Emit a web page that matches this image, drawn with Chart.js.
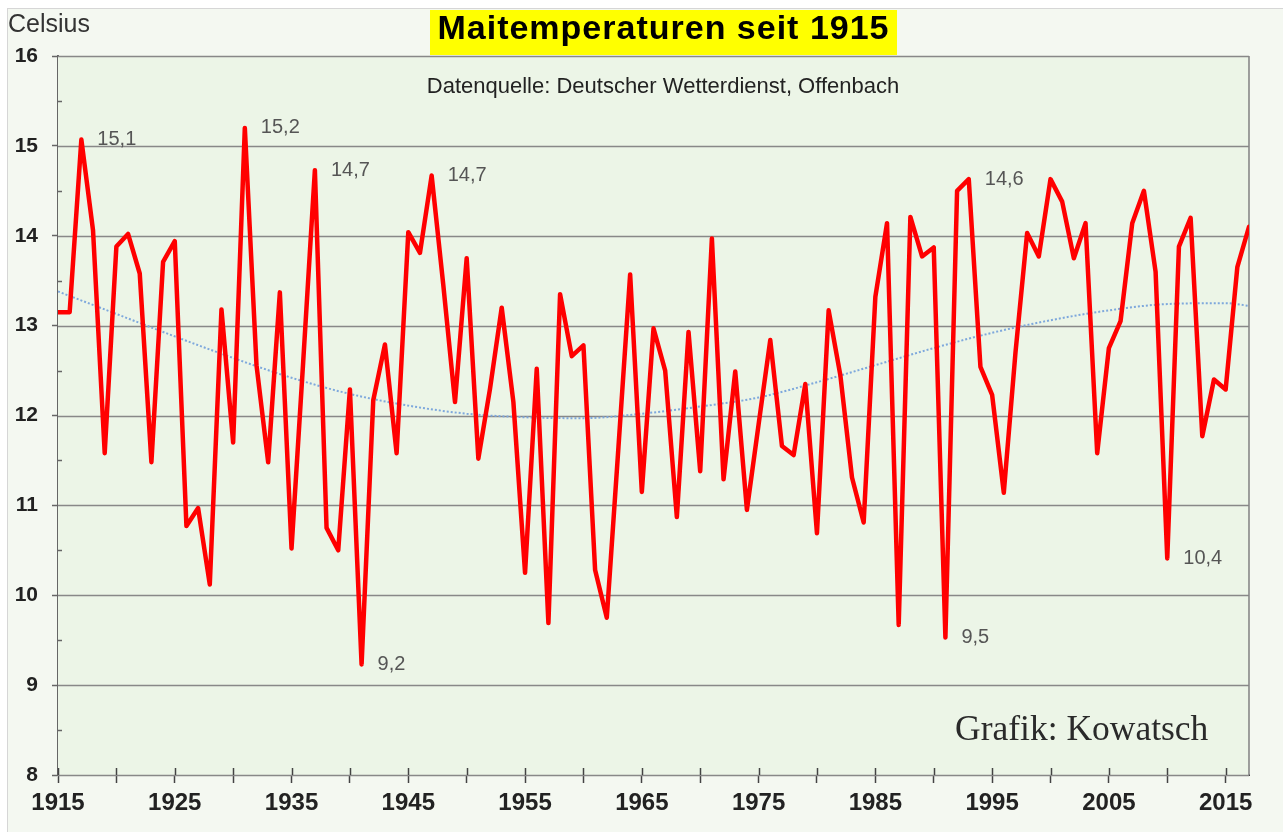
<!DOCTYPE html>
<html>
<head>
<meta charset="utf-8">
<script src="https://cdn.jsdelivr.net/npm/chart.js@4.4.1/dist/chart.umd.min.js"></script>
<style>
  html, body { margin:0; padding:0; background:#ffffff; }
  body { width:1283px; height:832px; position:relative; overflow:hidden; font-family:"Liberation Sans", Arial, sans-serif; }
  #panel { position:absolute; left:7px; top:8px; width:1276px; height:824px; background:#f4f8f1; border-left:1px solid #d6d6d6; border-top:1px solid #d6d6d6; box-sizing:border-box; }
  #chart { position:absolute; left:0; top:0; }
  .txt { position:absolute; white-space:nowrap; }
  #title { left:430px; top:10px; width:467px; height:45px; background:#ffff00; font-weight:bold; font-size:34px; letter-spacing:1px; line-height:35px; text-align:center; color:#000; }
  #subtitle { left:363px; top:75px; width:600px; font-size:22px; line-height:22px; text-align:center; color:#222; }
  #ylab { left:8px; top:11px; font-size:25px; line-height:25px; color:#333; }
  #credit { left:955px; top:711px; font-family:"Liberation Serif", "Times New Roman", serif; font-size:35.5px; line-height:35.5px; color:#2a2a2a; }
</style>
</head>
<body>
<div id="panel"></div>
<canvas id="chart" width="1283" height="832"></canvas>
<div class="txt" id="title">Maitemperaturen seit 1915</div>
<div class="txt" id="subtitle">Datenquelle: Deutscher Wetterdienst, Offenbach</div>
<div class="txt" id="ylab">Celsius</div>
<div class="txt" id="credit">Grafik: Kowatsch</div>
<script>
// ---- Data ----
const years = [
  1915,1916,1917,1918,1919,1920,1921,1922,1923,1924,
  1925,1926,1927,1928,1929,1930,1931,1932,1933,1934,
  1935,1936,1937,1938,1939,1940,1941,1942,1943,1944,
  1945,1946,1947,1948,1949,1950,1951,1952,1953,1954,
  1955,1956,1957,1958,1959,1960,1961,1962,1963,1964,
  1965,1966,1967,1968,1969,1970,1971,1972,1973,1974,
  1975,1976,1977,1978,1979,1980,1981,1982,1983,1984,
  1985,1986,1987,1988,1989,1990,1991,1992,1993,1994,
  1995,1996,1997,1998,1999,2000,2001,2002,2003,2004,
  2005,2006,2007,2008,2009,2010,2011,2012,2013,2014,
  2015,2016,2017
];
const mayTemps = [
  13.15,13.15,15.07,14.06,11.58,13.88,14.02,13.58,11.48,13.71,
  13.94,10.77,10.97,10.12,13.18,11.70,15.20,12.56,11.48,13.37,
  10.52,12.60,14.73,10.75,10.50,12.29, 9.23,12.17,12.79,11.58,
  14.04,13.81,14.67,13.45,12.15,13.75,11.52,12.30,13.20,12.15,
  10.25,12.52, 9.69,13.35,12.66,12.78,10.28, 9.75,11.65,13.57,
  11.15,12.97,12.50,10.87,12.93,11.38,13.97,11.29,12.49,10.95,
  11.90,12.84,11.66,11.56,12.35,10.69,13.17,12.45,11.31,10.81,
  13.32,14.14, 9.67,14.21,13.77,13.87, 9.53,14.50,14.63,12.54,
  12.23,11.14,12.70,14.03,13.77,14.63,14.38,13.75,14.14,11.58,
  12.75,13.05,14.14,14.50,13.60,10.41,13.88,14.20,11.77,12.40,
  12.29,13.65,14.10
];
// dotted trend curve, read at 5-year steps
const trendYears = [1915,1920,1925,1930,1935,1940,1945,1950,1955,1960,1965,1970,1975,1980,1985,1990,1995,2000,2005,2010,2015,2017];
const trendTemps = [13.38,13.13,12.88,12.64,12.42,12.24,12.11,12.02,11.98,11.97,12.02,12.10,12.20,12.37,12.56,12.75,12.92,13.06,13.17,13.24,13.25,13.22];
// years whose values are annotated
const labeledYears = [1917,1931,1937,1941,1947,1991,1993,2010];
// axis ranges
const yMin = 8, yMax = 16;
const xMin = 1915, xMax = 2017;

const mainPoints = years.map((yr, i) => ({ x: yr, y: mayTemps[i] }));
const trendPoints = trendYears.map((yr, i) => ({ x: yr, y: trendTemps[i] }));

const decor = {
  id: 'decor',
  beforeDatasetsDraw(chart) {
    const { ctx, chartArea: a } = chart;
    ctx.save();
    ctx.fillStyle = '#ecf5e7';
    ctx.fillRect(a.left, a.top, a.right - a.left, a.bottom - a.top);
    ctx.restore();
    const ys = chart.scales.y;
    ctx.save();
    ctx.strokeStyle = '#888888';
    ctx.lineWidth = 1.6;
    ys.ticks.forEach(t => {
      const py = Math.round(ys.getPixelForValue(t.value)) + 0.5;
      ctx.beginPath(); ctx.moveTo(a.left, py); ctx.lineTo(a.right, py); ctx.stroke();
    });
    ctx.beginPath(); ctx.moveTo(a.right, a.top); ctx.lineTo(a.right, a.bottom); ctx.stroke();
    ctx.restore();
  },
  afterDatasetsDraw(chart) {
    const { ctx } = chart;
    const meta = chart.getDatasetMeta(0);
    ctx.save();
    ctx.font = '20px "Liberation Sans", Arial, sans-serif';
    ctx.fillStyle = '#555555';
    ctx.textAlign = 'left';
    ctx.textBaseline = 'middle';
    labeledYears.forEach(yr => {
      const i = years.indexOf(yr);
      const el = meta.data[i];
      const txt = mayTemps[i].toFixed(1).replace('.', ',');
      ctx.fillText(txt, el.x + 16, el.y);
    });
    ctx.restore();
  },
  afterDraw(chart) {
    const { ctx, chartArea: a } = chart;
    const xs = chart.scales.x, ys = chart.scales.y;
    ctx.save();
    ctx.strokeStyle = '#444';
    ctx.lineWidth = 1.5;
    xs.ticks.forEach(t => {
      const px = Math.round(xs.getPixelForValue(t.value)) + 0.5;
      ctx.beginPath(); ctx.moveTo(px, a.bottom - 7); ctx.lineTo(px, a.bottom); ctx.stroke();
    });
    ctx.strokeStyle = '#666';
    ys.ticks.forEach(t => {
      if (t.value >= yMax) return;
      const py = Math.round(ys.getPixelForValue(t.value + 0.5)) + 0.5;
      ctx.beginPath(); ctx.moveTo(a.left, py); ctx.lineTo(a.left + 4, py); ctx.stroke();
    });
    ctx.restore();
  }
};

new Chart(document.getElementById('chart'), {
  type: 'line',
  data: {
    datasets: [
      {
        data: mainPoints,
        borderColor: '#ff0000',
        borderWidth: 4.5,
        pointRadius: 0,
        tension: 0,
        borderJoinStyle: 'round',
        borderCapStyle: 'round',
        fill: false
      },
      {
        data: trendPoints,
        borderColor: '#7ea8dc',
        borderWidth: 2,
        borderDash: [2, 2],
        pointRadius: 0,
        cubicInterpolationMode: 'monotone',
        fill: false
      }
    ]
  },
  options: {
    responsive: false,
    animation: false,
    devicePixelRatio: 1,
    layout: { padding: { left: 0, top: 56, right: 34, bottom: 0 } },
    plugins: { legend: { display: false }, tooltip: { enabled: false }, title: { display: false } },
    scales: {
      x: {
        type: 'linear',
        min: xMin, max: xMax,
        afterFit(s) { s.height = 57; },
        border: { display: true, color: '#444', width: 2 },
        grid: { display: true, drawOnChartArea: false, drawTicks: true, tickLength: 8, tickColor: '#444', tickWidth: 1.5 },
        ticks: {
          stepSize: 5,
          includeBounds: false,
          autoSkip: false,
          maxRotation: 0,
          padding: 6,
          color: '#222',
          font: { family: '"Liberation Sans", Arial, sans-serif', size: 24, weight: 'bold' },
          callback: v => ((v - 1915) % 10 === 0 ? String(v) : '')
        }
      },
      y: {
        min: yMin, max: yMax,
        afterFit(s) { s.width = 58; },
        border: { display: true, color: '#666', width: 2 },
        grid: { display: true, drawOnChartArea: false, tickLength: 6, tickColor: '#666', tickWidth: 1.5 },
        ticks: {
          stepSize: 1,
          padding: 14,
          color: '#222',
          font: { family: '"Liberation Sans", Arial, sans-serif', size: 21, weight: 'bold' }
        }
      }
    }
  },
  plugins: [decor]
});
</script>
</body>
</html>
